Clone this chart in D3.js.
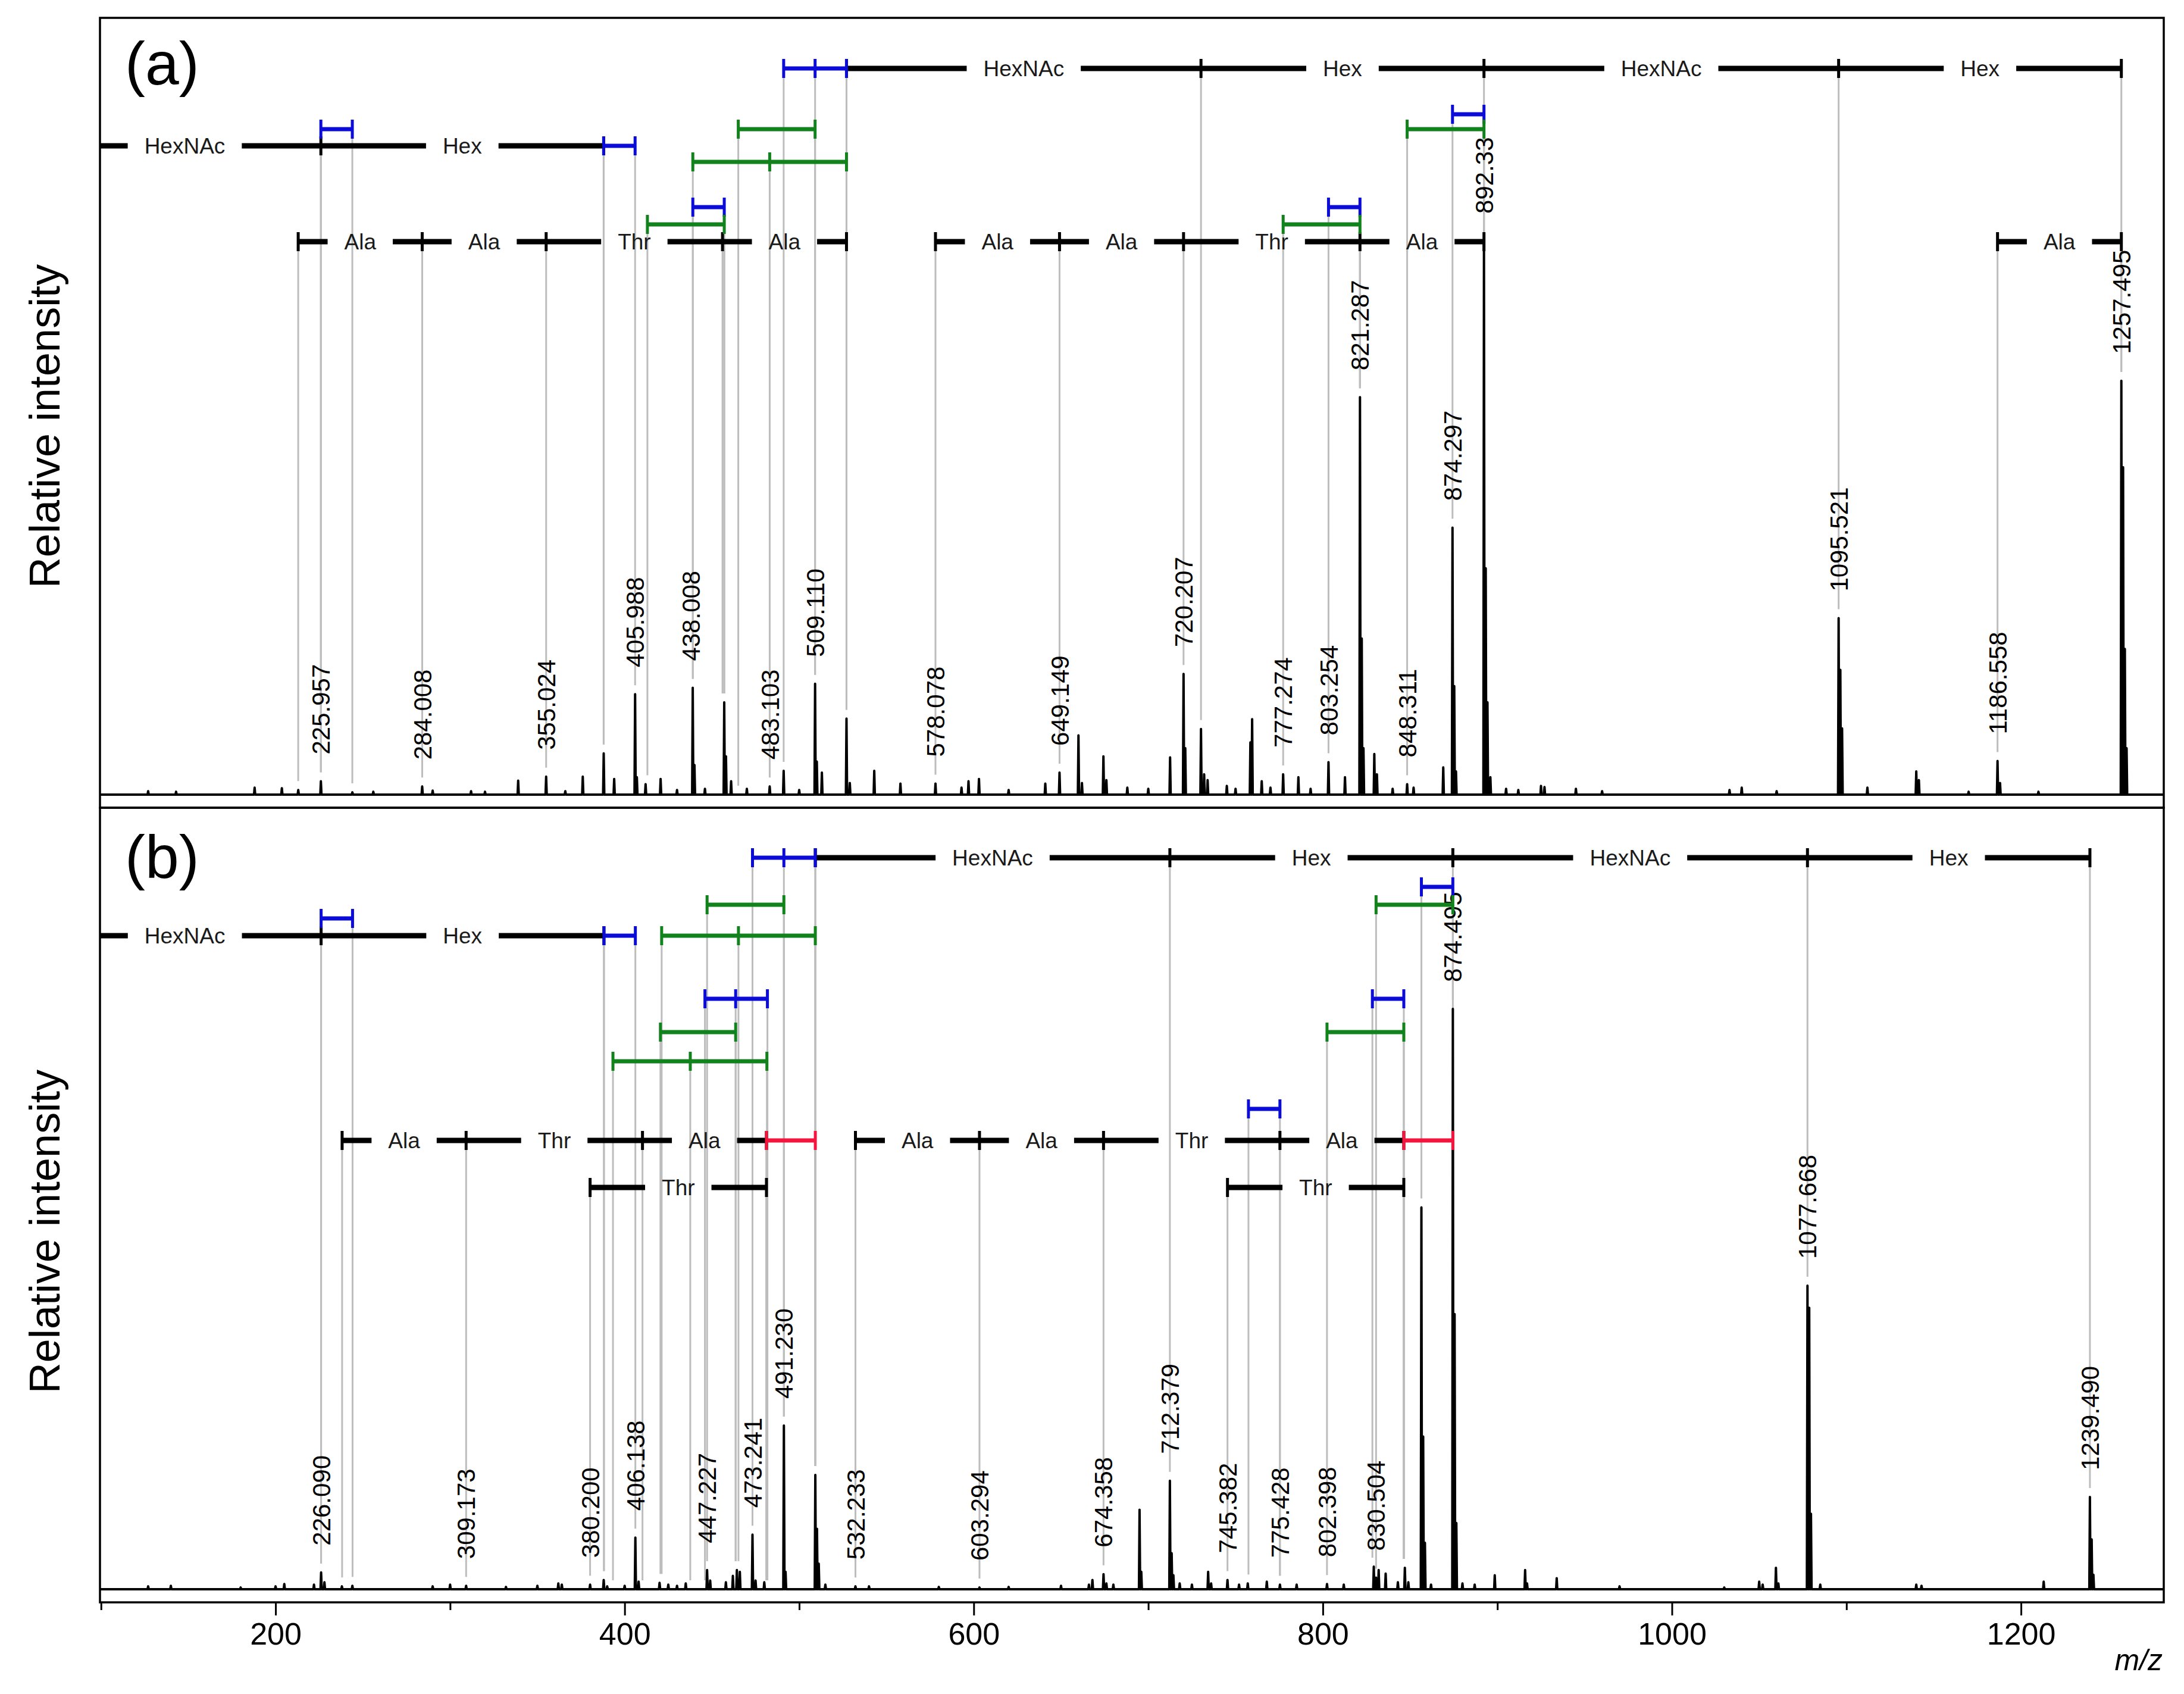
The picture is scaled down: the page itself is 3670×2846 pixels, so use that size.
<!DOCTYPE html>
<html>
<head>
<meta charset="utf-8">
<script src="https://cdn.jsdelivr.net/npm/d3@7"></script>
<style>
  body { margin: 0; background: #fff; }
  svg { display: block; }
</style>
</head>
<body>
<script>
// ---- data ---------------------------------------------------------------

// m/z axis
const mzDomain = [99.4, 1281.8];
const majorTicks = [200, 400, 600, 800, 1000, 1200];
const minorTicks = [100, 300, 500, 700, 900, 1100];

// spectrum (a): [m/z, relative intensity]
const peaksA = [
  [127, 0.6], [143, 0.5], [188, 1.2], [203.6, 1.1], [213, 0.8], [225.96, 2.3], [244, 0.4],
  [256, 0.5], [284.0, 1.4], [290, 0.7], [312, 0.6], [320, 0.5], [339, 2.4], [355.02, 3.1],
  [366, 0.6], [376, 3.1], [388.0, 7.1], [394, 2.7], [405.99, 17.3], [407, 3], [412, 1.8],
  [420.6, 2.7], [430, 0.8], [439.01, 18.4], [440, 5.1], [446, 1], [457.05, 15.9], [458.05, 6.6],
  [461, 2.3], [470, 1.0], [483.1, 1.4], [491.1, 4.1], [500, 0.8], [509.11, 19.1], [510.1, 5.7],
  [513, 3.8], [527.1, 13.1], [529, 2], [543, 4.1], [558, 1.9], [578.08, 1.9], [593, 1.2],
  [597, 2.3], [603, 2.7], [620, 0.8], [641, 1.9], [649.15, 3.8], [660, 10.2], [662, 2],
  [674.3, 6.6], [676, 2.5], [688, 1.2], [700, 1.0], [712.5, 6.4], [720.21, 20.8], [721.2, 8],
  [730.2, 11.3], [732, 3.5], [734, 2.5], [745, 1.5], [750, 1], [758.5, 9], [759.5, 13],
  [765, 2.3], [770, 1.2], [777.27, 3.5], [786, 3], [793, 1], [803.25, 5.6], [812.7, 3],
  [821.29, 68.5], [822.3, 26.9], [823.3, 8], [829.5, 7], [831, 3.5], [840, 1], [848.31, 1.8],
  [852, 1.2], [869, 4.7], [874.3, 46], [875.3, 18.7], [876.3, 4], [892.33, 95.5], [893.33, 39],
  [894.33, 15.9], [896, 3], [905, 1], [912, 0.8], [925, 1.5], [927, 1.3], [945, 1], [960, 0.6],
  [1033, 0.8], [1040, 1.2], [1060, 0.6], [1095.52, 30.4], [1096.5, 21.5], [1097.5, 11.4],
  [1112, 1.2], [1140, 4], [1141.5, 2.5], [1170, 0.5], [1186.56, 5.8], [1188, 2], [1210, 0.5],
  [1257.5, 71.3], [1258.5, 56.4], [1259.5, 25.1], [1260.5, 8]
];
const labelsA = ['225.957', '284.008', '355.024', '405.988', '438.008', '483.103', '509.110',
  '578.078', '649.149', '720.207', '777.274', '803.254', '821.287', '848.311', '874.297',
  '892.33', '1095.521', '1186.558', '1257.495'];

// annotation bars (a): row = stacking level, kind picks the colour
const barsA = [
  { row: 0, kind: 'glycan', ticks: [527.1, 730.2, 892.33, 1095.521, 1257.495], names: ['HexNAc', 'Hex', 'HexNAc', 'Hex'] },
  { row: 3, kind: 'glycan', ticks: [70, 225.957, 387.98], names: ['HexNAc', 'Hex'] },
  { row: 7, kind: 'aa', ticks: [212.97, 284.008, 355.024, 456.07, 527.1], names: ['Ala', 'Ala', 'Thr', 'Ala'] },
  { row: 7, kind: 'aa', ticks: [578.078, 649.149, 720.207, 821.287, 892.33], names: ['Ala', 'Ala', 'Thr', 'Ala'] },
  { row: 7, kind: 'aa', ticks: [1186.558, 1257.495], names: ['Ala'] },
  { row: 0, kind: 'water', ticks: [491.1, 509.11, 527.1] },
  { row: 1, kind: 'water', ticks: [874.297, 892.33] },
  { row: 2, kind: 'water', ticks: [225.957, 243.97] },
  { row: 2, kind: 'co2', ticks: [465.1, 509.11] },
  { row: 2, kind: 'co2', ticks: [848.311, 892.33] },
  { row: 3, kind: 'water', ticks: [387.98, 405.988] },
  { row: 4, kind: 'co2', ticks: [439.06, 483.103, 527.1] },
  { row: 5, kind: 'water', ticks: [439.06, 457.07] },
  { row: 5, kind: 'water', ticks: [803.254, 821.287] },
  { row: 6, kind: 'co2', ticks: [413.04, 457.07] },
  { row: 6, kind: 'co2', ticks: [777.274, 821.287] }
];

// spectrum (b)
const peaksB = [
  [127, 0.5], [140, 0.6], [180, 0.3], [200, 0.5], [205, 0.9], [222, 0.8], [226.09, 2.9],
  [228, 1.2], [238, 0.5], [244, 0.6], [290, 0.5], [300, 0.8], [309.17, 0.6], [332, 0.4],
  [350, 0.6], [362, 1.0], [364, 0.8], [380.2, 0.8], [388, 1.6], [390, 0.5], [400, 0.6],
  [406.14, 8.9], [408, 1.3], [420, 1.1], [425, 0.8], [430, 0.6], [435, 1], [447.23, 3.3],
  [449, 1.5], [458, 1.2], [462, 2.3], [464.3, 3.3], [466, 3.0], [473.24, 9.4], [475, 1.5],
  [480, 1.2], [491.23, 28.2], [492.2, 3], [509.24, 19.7], [510.2, 10.4], [511.2, 4.4],
  [515, 0.8], [532.23, 0.5], [540, 0.5], [580, 0.4], [603.29, 0.3], [620, 0.4], [650, 0.6],
  [666, 0.8], [668, 1.6], [674.36, 2.6], [676, 1.0], [680, 0.8], [695, 13.7], [696, 3],
  [712.38, 18.7], [713.4, 6.2], [714.4, 2.4], [718, 1], [725, 0.8], [734.3, 3], [736, 1],
  [745.38, 1.6], [752, 0.8], [757, 1], [767.9, 1.3], [775.43, 0.8], [785, 0.8], [802.4, 0.9],
  [812, 0.8], [829.2, 3.9], [830.5, 2], [832, 3.3], [836, 2.7], [843, 1.2], [847, 3.7],
  [849, 1.2], [856.48, 65.8], [857.5, 26.3], [858.5, 8], [862, 0.8], [874.5, 100],
  [875.5, 47.4], [876.5, 11.4], [880, 1], [887, 0.8], [898.5, 2.4], [915.9, 3.3], [917, 1],
  [934, 1.9], [970, 0.5], [1030, 0.3], [1050, 1.3], [1052, 0.8], [1059.6, 3.7], [1061, 1],
  [1077.67, 52.3], [1078.67, 48.5], [1079.67, 13], [1085, 0.8], [1140, 0.8], [1143, 0.6],
  [1213, 1.3], [1239.49, 15.9], [1240.49, 8.6], [1241.5, 2.5]
];
const labelsB = ['226.090', '309.173', '380.200', '406.138', '447.227', '473.241', '491.230',
  '532.233', '603.294', '674.358', '712.379', '745.382', '775.428', '802.398', '830.504',
  '874.495', '1077.668', '1239.490'];

const barsB = [
  { row: 0, kind: 'glycan', ticks: [509.24, 712.379, 874.495, 1077.668, 1239.49], names: ['HexNAc', 'Hex', 'HexNAc', 'Hex'] },
  { row: 4, kind: 'glycan', ticks: [70, 226.09, 388.14], names: ['HexNAc', 'Hex'] },
  { row: 9, kind: 'aa', ticks: [238.13, 309.173, 410.22, 481.25], names: ['Ala', 'Thr', 'Ala'] },
  { row: 9, kind: 'aa', ticks: [532.233, 603.294, 674.358, 775.428, 846.4], names: ['Ala', 'Ala', 'Thr', 'Ala'] },
  { row: 10, kind: 'aa', ticks: [380.2, 481.25], names: ['Thr'] },
  { row: 10, kind: 'aa', ticks: [745.382, 846.4], names: ['Thr'] },
  { row: 0, kind: 'water', ticks: [473.241, 491.23, 509.24] },
  { row: 1, kind: 'water', ticks: [856.48, 874.495] },
  { row: 2, kind: 'co2', ticks: [447.227, 491.23] },
  { row: 2, kind: 'co2', ticks: [830.504, 874.495] },
  { row: 3, kind: 'water', ticks: [226.09, 244.1] },
  { row: 4, kind: 'water', ticks: [388.14, 406.138] },
  { row: 4, kind: 'co2', ticks: [421.2, 465.2, 509.24] },
  { row: 5, kind: 'water', ticks: [446.0, 463.6, 481.8] },
  { row: 5, kind: 'water', ticks: [828.4, 846.4] },
  { row: 6, kind: 'co2', ticks: [420.5, 463.6] },
  { row: 6, kind: 'co2', ticks: [802.398, 846.4] },
  { row: 7, kind: 'co2', ticks: [393.3, 437.6, 481.5] },
  { row: 8, kind: 'water', ticks: [757.4, 775.428] },
  { row: 9, kind: 'co', ticks: [481.25, 509.24] },
  { row: 9, kind: 'co', ticks: [846.4, 874.495] }
];

// ---- layout -------------------------------------------------------------

const W = 3670, H = 2846;
const plotLeft = 168, plotRight = 3636;
const font = 'Liberation Sans, Arial, sans-serif';

const panels = [
  { tag: '(a)', top: 30, bottom: 1357, peaks: peaksA, labels: labelsA, bars: barsA,
    rows: [85, 162, 187, 215, 242, 318, 347, 376], titleY: 716, tagY: 112 },
  { tag: '(b)', top: 1357, bottom: 2692, peaks: peaksB, labels: labelsB, bars: barsB,
    rows: [84, 133, 163, 186, 215, 321, 377, 426, 506, 559, 638], titleY: 2069, tagY: 118 }
];

const colorOf = { glycan: '#000', aa: '#000', water: '#0c0cd8', co2: '#12821c', co: '#f4143e' };

const svg = d3.select('body').append('svg')
  .attr('width', W)
  .attr('height', H)
  .style('font-family', font);

const x = d3.scaleLinear().domain(mzDomain).range([plotLeft, plotRight]);

function peakAt(peaks, mz) {
  let best = 0;
  peaks.forEach(p => { if (Math.abs(p[0] - mz) < 1.2 && p[1] > best) best = p[1]; });
  return best;
}

panels.forEach((p, pi) => {
  const base = p.bottom - 22;
  const y = d3.scaleLinear().domain([0, 100]).range([base, base - 975]);

  const clipId = 'clip' + pi;
  svg.append('clipPath').attr('id', clipId)
    .append('rect')
    .attr('x', plotLeft).attr('y', p.top)
    .attr('width', plotRight - plotLeft).attr('height', p.bottom - p.top);

  const g = svg.append('g').attr('clip-path', `url(#${clipId})`);

  // grey guide lines from each annotation tick down to its peak
  const guides = [];
  p.bars.forEach(b => b.ticks.forEach(t => guides.push({ mz: t, y: p.top + p.rows[b.row] })));
  g.append('g').selectAll('line')
    .data(guides)
    .join('line')
    .attr('x1', d => x(d.mz))
    .attr('x2', d => x(d.mz))
    .attr('y1', d => d.y)
    .attr('y2', d => y(peakAt(p.peaks, d.mz)) - 15)
    .attr('stroke', '#bdbdbd')
    .attr('stroke-width', 3);

  // spectrum as a stick trace
  const pts = [[mzDomain[0], 0], [mzDomain[1], 0]];
  p.peaks.forEach(([m, v]) => pts.push([m - 0.35, 0], [m, v], [m + 0.35, 0]));
  pts.sort((a, b) => a[0] - b[0]);
  g.append('path')
    .datum(pts)
    .attr('d', d3.line().x(d => x(d[0])).y(d => y(d[1])))
    .attr('fill', 'none')
    .attr('stroke', '#000')
    .attr('stroke-width', 4)
    .attr('stroke-linejoin', 'round');

  // peak labels
  g.append('g').selectAll('text')
    .data(p.labels)
    .join('text')
    .attr('transform', d => `translate(${x(+d)},${y(peakAt(p.peaks, +d)) - 45}) rotate(-90)`)
    .attr('dy', '0.36em')
    .attr('font-size', 42)
    .attr('fill', '#000')
    .text(d => d);

  // annotation bars, black ladders first so coloured ticks sit on top
  const bars = p.bars.slice().sort((a, b) => (colorOf[a.kind] === '#000' ? 0 : 1) - (colorOf[b.kind] === '#000' ? 0 : 1));
  bars.forEach(b => {
    const by = p.top + p.rows[b.row];
    const col = colorOf[b.kind];
    const lw = col === '#000' ? 9 : 7;
    const bg = g.append('g');
    for (let i = 0; i < b.ticks.length - 1; i++) {
      const x0 = x(b.ticks[i]), x1 = x(b.ticks[i + 1]);
      const name = b.names ? b.names[i] : null;
      if (name) {
        const mid = (x0 + x1) / 2;
        const t = bg.append('text')
          .attr('x', mid).attr('y', by)
          .attr('dy', '0.36em')
          .attr('text-anchor', 'middle')
          .attr('font-size', 37)
          .attr('fill', '#1a1a1a')
          .text(name);
        const tw = t.node().getComputedTextLength();
        const pad = 28;
        [[x0, mid - tw / 2 - pad], [mid + tw / 2 + pad, x1]].forEach(s => {
          if (s[1] > s[0]) {
            bg.append('line').attr('x1', s[0]).attr('x2', s[1]).attr('y1', by).attr('y2', by)
              .attr('stroke', col).attr('stroke-width', lw);
          }
        });
      } else {
        bg.append('line').attr('x1', x0).attr('x2', x1).attr('y1', by).attr('y2', by)
          .attr('stroke', col).attr('stroke-width', lw);
      }
    }
    bg.selectAll('line.tick')
      .data(b.ticks)
      .join('line')
      .attr('class', 'tick')
      .attr('x1', d => x(d)).attr('x2', d => x(d))
      .attr('y1', by - 16).attr('y2', by + 16)
      .attr('stroke', col)
      .attr('stroke-width', 5);
  });

  // frame
  svg.append('rect')
    .attr('x', plotLeft).attr('y', p.top)
    .attr('width', plotRight - plotLeft).attr('height', p.bottom - p.top)
    .attr('fill', 'none')
    .attr('stroke', '#000')
    .attr('stroke-width', 3.5);

  svg.append('text')
    .attr('x', 210).attr('y', p.top + p.tagY)
    .attr('font-size', 102)
    .text(p.tag);

  svg.append('text')
    .attr('transform', `translate(100,${p.titleY}) rotate(-90)`)
    .attr('text-anchor', 'middle')
    .attr('font-size', 72)
    .text('Relative intensity');
});

// m/z axis under panel (b)
const axisY = panels[1].bottom;
const major = svg.append('g')
  .attr('transform', `translate(0,${axisY})`)
  .call(d3.axisBottom(x).tickValues(majorTicks).tickSize(22).tickPadding(12).tickFormat(d3.format('d')));
const minor = svg.append('g')
  .attr('transform', `translate(0,${axisY})`)
  .call(d3.axisBottom(x).tickValues(minorTicks).tickSize(13).tickFormat(''));
[major, minor].forEach(a => {
  a.select('.domain').remove();
  a.selectAll('line').attr('stroke', '#000').attr('stroke-width', 3);
});
major.selectAll('text')
  .attr('font-size', 52)
  .attr('font-family', font)
  .attr('fill', '#000');

svg.append('text')
  .attr('x', 3634).attr('y', 2806)
  .attr('text-anchor', 'end')
  .attr('font-size', 50)
  .attr('font-style', 'italic')
  .text('m/z');
</script>
</body>
</html>
